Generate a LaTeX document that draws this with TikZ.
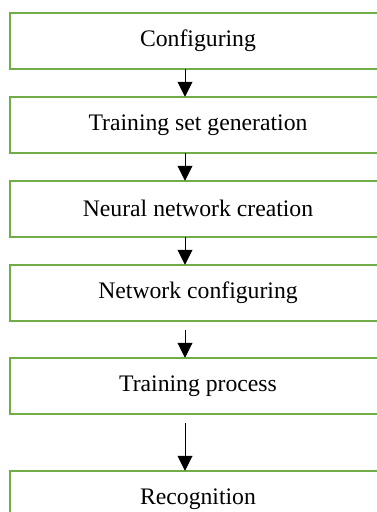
\documentclass[tikz,border=0pt]{standalone}
\usepackage{fontspec}
\setmainfont{Liberation Serif}
\usetikzlibrary{arrows.meta,positioning}
\definecolor{boxgreen}{RGB}{112,173,71}

\begin{document}
\begin{tikzpicture}[x=1pt,y=1pt,font=\fontsize{23.7}{28}\selectfont,>={Triangle[length=15pt,width=15pt]},
  stage/.style={draw=boxgreen,line width=2.5pt,minimum width=376pt,minimum height=56pt,inner sep=0pt,outer sep=0pt,align=center},
  flow/.style={->,line width=1pt}]
\path[use as bounding box,clip] (0,0) rectangle (377,-512);
\node[stage] (config) at (198,-40.75) {Configuring};
\node[stage,below=28pt of config] (trainset) {Training set generation};
\node[stage,below=28pt of trainset] (nncreate) {Neural network creation};
\node[stage,below=28pt of nncreate] (netconf) {Network configuring};
\node[stage,below=37pt of netconf] (trainproc) {Training process};
\node[stage,below=57pt of trainproc] (recog) {Recognition};
% arrows sit a little left of the box centres
\draw[flow] ([xshift=-13pt]config.south) -- ([xshift=-13pt]trainset.north);
\draw[flow] ([xshift=-13pt]trainset.south) -- ([xshift=-13pt]nncreate.north);
\draw[flow] ([xshift=-13pt]nncreate.south) -- ([xshift=-13pt]netconf.north);
\draw[flow,shorten <=9pt] ([xshift=-13pt]netconf.south) -- ([xshift=-13pt]trainproc.north);
\draw[flow,shorten <=9pt] ([xshift=-13pt]trainproc.south) -- ([xshift=-13pt]recog.north);
\end{tikzpicture}
\end{document}
